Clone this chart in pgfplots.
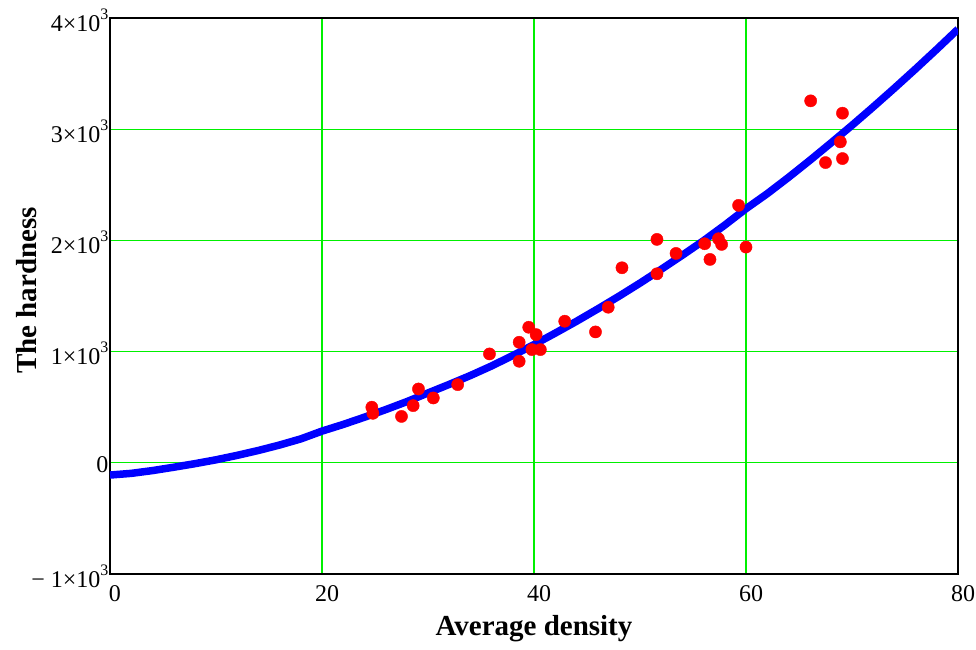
\documentclass[border=0pt]{standalone}
\usepackage{pgfplots}
\pgfplotsset{compat=1.18}
\usepackage{fontspec}
\setmainfont{Liberation Serif}
\definecolor{gridgreen}{RGB}{0,240,0}
\newcommand{\supthree}{\raisebox{0.5em}{\fontsize{16}{16}\selectfont 3}}
\begin{document}
\begin{tikzpicture}
\begin{axis}[
  scale only axis, width=848pt, height=556pt,
  xmin=0, xmax=80, ymin=-1000, ymax=4000,
  xtick={0,20,40,60,80},
  ytick={-1000,0,1000,2000,3000,4000},
  yticklabels={{−\ 1×10\supthree},0,{1×10\supthree},{2×10\supthree},{3×10\supthree},{4×10\supthree}},
  xticklabels={0,20,40,60,80},
  major tick length=0pt,
  xmajorgrids, ymajorgrids,
  major grid style={draw=gridgreen, line width=1.3pt},
  axis line style={line width=2pt, black},
  tick label style={font=\fontsize{24}{26}\selectfont},
  yticklabel style={xshift=2pt, yshift=-2pt},
  xticklabel style={yshift=-8pt, xshift=5pt},
  xlabel={Average density}, ylabel={The hardness},
  xlabel style={font=\fontsize{29}{32}\selectfont\bfseries, at={(axis description cs:0.5,-0.098)}, anchor=center},
  ylabel style={font=\fontsize{29}{32}\selectfont\bfseries, at={(axis description cs:-0.098,0.51)}, anchor=center},
  clip=true,
]
\addplot[blue, line width=7.5pt, line join=round] coordinates {
(0,-110) (2,-95) (4,-70) (6,-40) (8,-8) (10,27) (12,67) (14,111) (16,160) (18,215)
(20,285) (22,345) (24,410) (26,478) (28,550) (30,628) (32,705) (34,785) (36,871)
(38,965) (40,1063) (42,1166) (44,1272) (46,1383) (48,1497) (50,1616) (52,1740)
(54,1867) (56,1998) (58,2138) (60,2285) (62,2420) (64,2566) (66,2718) (68,2875)
(70,3035) (72,3200) (74,3369) (76,3542) (78,3719) (80,3900)
};
\addplot[only marks, mark=*, mark size=6.1pt, color=red, mark options={fill=red, draw=red}] coordinates {
(24.7,500) (24.8,445) (27.5,417) (28.6,514) (29.1,664) (30.5,583) (32.8,703)
(35.8,979) (38.6,1084) (38.6,913) (39.5,1219) (40.2,1153) (40.6,1018) (39.8,1018)
(42.9,1273) (45.8,1177) (47.0,1399) (48.3,1754) (51.6,2009) (51.6,1700) (53.4,1883)
(56.1,1970) (56.6,1829) (57.4,2015) (57.7,1964) (59.3,2315) (60.0,1940)
(66.1,3255) (67.5,2700) (68.9,2886) (69.1,3144) (69.1,2736)
};
\end{axis}
\pgfresetboundingbox
\path ([shift={(-110pt,-75pt)}]current axis.south west) rectangle ([shift={(18pt,18pt)}]current axis.north east);
\end{tikzpicture}
\end{document}
